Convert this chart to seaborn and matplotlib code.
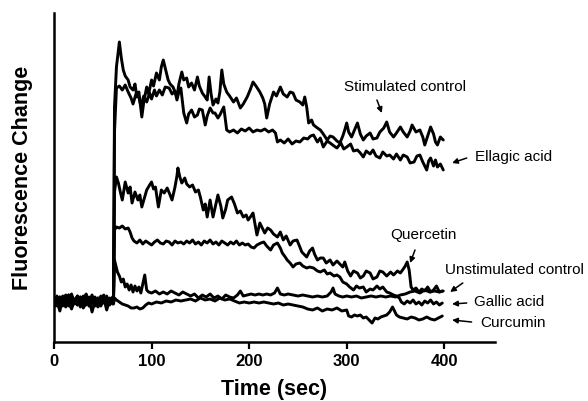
import matplotlib
matplotlib.use("Agg")
import matplotlib.pyplot as plt
import seaborn as sns
import pandas as pd

# ---------------- data (arbitrary fluorescence units) ----------------
series_names = ["Stimulated control", "Ellagic acid", "Quercetin",
                "Gallic acid", "Unstimulated control", "Curcumin"]

t_base = [0, 3, 6, 9, 12, 15, 18, 21, 24, 27, 30, 33, 36, 39, 42, 45, 48, 51, 54, 57, 60]

base_stim = [40, 46, 36, 44, 38, 47, 35, 42, 45, 37, 43, 48, 36, 41, 44, 38, 46, 39, 43, 37, 45]
base_ella = [44, 38, 45, 40, 47, 36, 43, 39, 46, 41, 35, 44, 40, 47, 38, 43, 36, 45, 41, 39, 44]
base_quer = [37, 43, 39, 46, 35, 42, 48, 38, 44, 40, 46, 37, 43, 39, 45, 36, 42, 47, 38, 44, 41]
base_gall = [42, 36, 45, 39, 43, 47, 37, 41, 46, 35, 42, 38, 45, 40, 36, 44, 39, 46, 37, 43, 40]
base_unst = [39, 45, 41, 36, 44, 38, 46, 42, 37, 45, 40, 47, 36, 43, 39, 44, 37, 41, 46, 38, 42]
base_curc = [35, 41, 31, 44, 36, 40, 33, 42, 37, 45, 34, 39, 43, 30, 41, 35, 40, 44, 32, 42, 38]

t_stim = [61, 62, 64, 67, 69, 71, 73, 76, 78, 81, 83, 85, 87, 90, 92, 95, 97, 100, 102, 105,
          108, 110, 112, 114, 117, 119, 122, 124, 126, 128, 131, 133, 136, 138, 141, 144, 147,
          149, 152, 155, 157, 159, 161, 163, 166, 168, 170, 172, 174, 177, 180, 184, 187, 191,
          194, 198, 201, 204, 207, 211, 214, 216, 218, 221, 225, 228, 232, 235, 239, 242, 245,
          248, 252, 255, 257, 259, 261, 264, 266, 270, 273, 276, 280, 283, 286, 290, 293, 296,
          298, 300, 302, 305, 308, 311, 314, 317, 320, 324, 327, 331, 334, 338, 341, 344, 348,
          351, 355, 358, 362, 365, 367, 371, 375, 378, 380, 383, 386, 389, 391, 393, 396, 399]
f_stim = [42, 235, 275, 300, 284, 272, 266, 262, 255, 252, 258, 245, 250, 225, 240, 255, 248,
          262, 256, 269, 262, 275, 282, 274, 262, 258, 255, 250, 245, 258, 270, 262, 264, 255,
          259, 252, 265, 256, 249, 245, 242, 265, 248, 237, 243, 239, 250, 272, 258, 250, 246,
          240, 244, 234, 238, 245, 252, 260, 256, 250, 244, 238, 224, 238, 250, 246, 255, 248,
          245, 250, 249, 242, 240, 237, 245, 235, 219, 222, 217, 214, 212, 208, 202, 206, 205,
          201, 199, 206, 212, 219, 210, 205, 212, 219, 208, 202, 206, 209, 203, 204, 210, 214,
          220, 210, 205, 209, 215, 210, 205, 211, 217, 210, 212, 205, 197, 206, 215, 208, 200,
          197, 205, 202]

t_ella = [61, 62, 64, 67, 70, 73, 76, 79, 81, 84, 87, 89, 92, 95, 98, 100, 103, 105, 108, 111,
          114, 118, 121, 124, 126, 128, 130, 133, 136, 138, 141, 144, 147, 149, 152, 155, 157,
          160, 163, 165, 168, 170, 172, 174, 177, 180, 184, 188, 192, 196, 200, 204, 208, 212,
          216, 220, 224, 227, 229, 232, 236, 240, 244, 248, 252, 256, 260, 263, 266, 270, 273,
          276, 280, 283, 287, 290, 294, 297, 300, 304, 307, 311, 314, 317, 320, 324, 327, 330,
          334, 337, 341, 344, 348, 351, 355, 358, 362, 365, 369, 372, 375, 378, 380, 382, 384,
          386, 389, 391, 393, 396, 399]
f_ella = [40, 210, 254, 256, 252, 257, 250, 244, 238, 248, 245, 236, 246, 240, 249, 243, 252,
          246, 252, 247, 255, 254, 248, 251, 242, 250, 254, 229, 219, 228, 232, 225, 227, 233,
          232, 217, 226, 234, 229, 229, 224, 227, 231, 235, 212, 210, 212, 209, 213, 211, 214,
          210, 212, 211, 213, 210, 212, 209, 200, 202, 199, 203, 198, 201, 200, 204, 203, 206,
          207, 200, 204, 195, 201, 199, 196, 194, 199, 193, 195, 198, 191, 192, 189, 185, 191,
          188, 192, 186, 184, 190, 186, 187, 183, 188, 182, 187, 185, 179, 180, 186, 187, 180,
          176, 172, 181, 184, 176, 182, 175, 178, 172]

t_quer = [61, 62, 64, 66, 68, 70, 73, 76, 78, 80, 83, 86, 88, 90, 93, 95, 98, 100, 102, 104,
          107, 110, 113, 116, 119, 121, 124, 126, 127, 129, 131, 134, 136, 139, 142, 145, 148,
          150, 153, 155, 157, 160, 163, 166, 168, 171, 173, 176, 178, 182, 185, 188, 191, 194,
          197, 199, 202, 204, 206, 208, 211, 214, 216, 219, 222, 225, 229, 232, 235, 238, 242,
          245, 249, 252, 254, 257, 259, 262, 265, 267, 270, 273, 276, 279, 283, 286, 290, 293,
          296, 298, 301, 304, 307, 311, 314, 317, 320, 324, 327, 331, 334, 337, 341, 345, 348,
          352, 355, 358, 360, 362, 364, 366, 368, 371, 374, 377, 380, 383, 386, 389, 392, 395, 398]
f_quer = [44, 150, 165, 159, 150, 142, 160, 149, 155, 139, 150, 142, 147, 135, 145, 152, 157,
          160, 153, 155, 135, 152, 149, 154, 147, 142, 155, 166, 174, 165, 159, 164, 158, 155,
          157, 150, 152, 145, 132, 138, 125, 142, 125, 138, 147, 136, 124, 133, 142, 145, 138,
          129, 131, 125, 127, 122, 126, 129, 118, 107, 119, 113, 109, 114, 112, 108, 105, 110,
          102, 106, 97, 101, 102, 95, 90, 87, 85, 91, 94, 88, 82, 84, 84, 79, 82, 77, 81, 78,
          75, 80, 71, 66, 71, 69, 64, 66, 71, 69, 63, 65, 71, 70, 66, 70, 67, 71, 69, 73, 76,
          80, 72, 55, 52, 54, 50, 53, 51, 55, 50, 52, 56, 50, 51]

t_gall = [61, 62, 64, 67, 70, 73, 76, 78, 80, 82, 85, 88, 91, 94, 97, 100, 103, 106, 109, 112,
          115, 118, 121, 124, 127, 130, 133, 136, 139, 142, 145, 148, 151, 154, 157, 160, 163,
          166, 169, 172, 175, 178, 181, 184, 187, 190, 193, 196, 199, 202, 205, 208, 212, 215,
          218, 222, 225, 229, 232, 234, 237, 239, 242, 245, 248, 252, 255, 259, 262, 266, 270,
          273, 277, 280, 283, 287, 290, 293, 296, 300, 303, 307, 310, 313, 317, 320, 324, 327,
          331, 334, 337, 341, 344, 348, 351, 354, 356, 359, 362, 365, 368, 371, 374, 377, 380,
          383, 386, 389, 392, 395, 398]
f_gall = [41, 112, 115, 114, 116, 113, 114, 110, 104, 101, 99, 102, 98, 101, 99, 97, 100, 102,
          99, 98, 101, 100, 97, 101, 99, 100, 98, 101, 99, 102, 98, 100, 97, 101, 99, 102, 98,
          100, 97, 101, 99, 97, 100, 98, 101, 97, 99, 97, 98, 95, 94, 97, 99, 100, 96, 92, 97,
          99, 94, 89, 85, 82, 79, 75, 78, 79, 76, 74, 75, 74, 71, 70, 72, 68, 69, 66, 67, 65,
          60, 58, 55, 52, 56, 54, 55, 50, 53, 52, 56, 53, 55, 50, 49, 47, 46, 44, 40, 38, 41,
          39, 42, 38, 40, 37, 41, 39, 42, 38, 40, 37, 39]

t_unst = [61, 62, 63, 65, 67, 69, 71, 73, 75, 77, 79, 81, 83, 85, 87, 89, 91, 93, 95, 97, 100,
          104, 108, 112, 116, 120, 124, 128, 132, 136, 140, 144, 148, 152, 156, 160, 164, 168,
          172, 176, 180, 184, 188, 191, 194, 198, 202, 206, 210, 214, 218, 222, 226, 229, 232,
          236, 240, 245, 250, 255, 260, 265, 270, 275, 280, 284, 286, 288, 292, 296, 300, 305,
          310, 315, 320, 325, 330, 335, 340, 345, 350, 355, 360, 365, 370, 375, 380, 385, 390,
          395, 399]
f_unst = [43, 82, 78, 70, 66, 60, 63, 55, 58, 52, 57, 50, 56, 51, 55, 49, 58, 67, 52, 50, 49,
          51, 48, 50, 48, 51, 49, 47, 50, 48, 46, 48, 44, 47, 45, 48, 44, 46, 43, 47, 45, 44,
          47, 51, 46, 47, 48, 47, 48, 47, 48, 47, 49, 54, 48, 47, 48, 47, 46, 47, 46, 45, 46,
          45, 46, 50, 54, 48, 46, 45, 46, 45, 46, 44, 45, 46, 45, 46, 45, 46, 45, 47, 48, 50,
          51, 49, 52, 50, 51, 50, 51]

t_curc = [61, 62, 64, 67, 70, 73, 76, 79, 82, 85, 88, 91, 94, 97, 100, 105, 110, 115, 120, 125,
          130, 135, 140, 145, 150, 155, 160, 165, 170, 175, 180, 185, 190, 195, 200, 205, 210,
          215, 220, 225, 230, 235, 240, 245, 250, 255, 260, 265, 270, 275, 280, 285, 290, 295,
          300, 302, 305, 308, 311, 314, 317, 320, 323, 326, 329, 332, 335, 338, 341, 344, 347,
          349, 351, 354, 358, 362, 366, 370, 374, 378, 382, 386, 390, 394, 398]
f_curc = [38, 44, 42, 40, 38, 37, 36, 34, 34, 35, 33, 34, 37, 39, 38, 40, 39, 41, 40, 42, 41,
          42, 43, 41, 44, 42, 43, 41, 44, 42, 43, 41, 39, 40, 39, 40, 39, 40, 39, 38, 39, 37,
          38, 37, 36, 35, 33, 32, 34, 31, 33, 32, 34, 31, 32, 26, 25, 27, 26, 27, 24, 25, 22,
          19, 24, 23, 25, 26, 27, 30, 35, 31, 27, 25, 24, 23, 25, 24, 22, 23, 25, 23, 22, 24, 26]

x_ticks = [0, 100, 200, 300, 400]
x_label = "Time (sec)"
y_label = "Fluorescence Change"

# label text, text position (t, F), arrow start (t, F), arrow tip (t, F)
annotations = [
    ("Stimulated control", (360, 255), (331, 242), (336, 229)),
    ("Ellagic acid", (471, 185), (423, 184), (408, 179)),
    ("Quercetin", (379, 107), (370, 92), (365, 79)),
    ("Unstimulated control", (472, 72), (419, 59), (406, 50)),
    ("Gallic acid", (466, 40), (423, 39), (408, 38)),
    ("Curcumin", (470, 19), (428, 20), (408, 22)),
]

# ---------------- build long-form table ----------------
traces = {
    "Stimulated control": (base_stim, t_stim, f_stim),
    "Ellagic acid": (base_ella, t_ella, f_ella),
    "Quercetin": (base_quer, t_quer, f_quer),
    "Gallic acid": (base_gall, t_gall, f_gall),
    "Unstimulated control": (base_unst, t_unst, f_unst),
    "Curcumin": (base_curc, t_curc, f_curc),
}
rows = []
for name in series_names:
    b, tt, ff = traces[name]
    for t, f in zip(t_base + tt, b + ff):
        rows.append((name, t, f))
df = pd.DataFrame(rows, columns=["series", "time", "fluor"])

# ---------------- plot ----------------
sns.set_style("ticks")
plt.rcParams["font.family"] = ["Liberation Sans", "DejaVu Sans"]
plt.rcParams["text.color"] = "black"
plt.rcParams["axes.labelcolor"] = "black"
plt.rcParams["xtick.color"] = "black"
plt.rcParams["ytick.color"] = "black"

fig = plt.figure(figsize=(5.88, 4.01), dpi=100)
ax = fig.add_axes([54 / 588, 59 / 401, 441 / 588, 329 / 401])

sns.lineplot(data=df, x="time", y="fluor", hue="series", units="series",
             estimator=None, sort=False, palette={n: "black" for n in series_names},
             linewidth=2.1, legend=False, ax=ax)

ax.set_xlim(0, 452)
ax.set_ylim(0, 329)
ax.set_yticks([])
ax.set_xticks(x_ticks)
ax.set_xticklabels([str(v) for v in x_ticks], fontsize=12, fontweight="bold", color="black")
ax.tick_params(axis="x", length=5, width=1.6, pad=4, color="black", labelcolor="black")
sns.despine(ax=ax)
for s in ["left", "bottom"]:
    ax.spines[s].set_linewidth(1.8)
    ax.spines[s].set_color("black")

ax.set_xlabel(x_label, fontsize=15.5, fontweight="bold", color="black")
ax.set_ylabel(y_label, fontsize=15.5, fontweight="bold", color="black")
ax.xaxis.set_label_coords(0.5, -0.112)
ax.yaxis.set_label_coords(-0.048, 0.5)

for text, pos, start, tip in annotations:
    ax.annotate(text, xy=pos, ha="center", va="center", fontsize=11,
                color="black", annotation_clip=False)
    ax.annotate("", xy=tip, xytext=start, annotation_clip=False,
                arrowprops=dict(arrowstyle="-|>", color="black", lw=1.1,
                                mutation_scale=8, shrinkA=0, shrinkB=0))

fig.savefig("out.png", dpi=100)
